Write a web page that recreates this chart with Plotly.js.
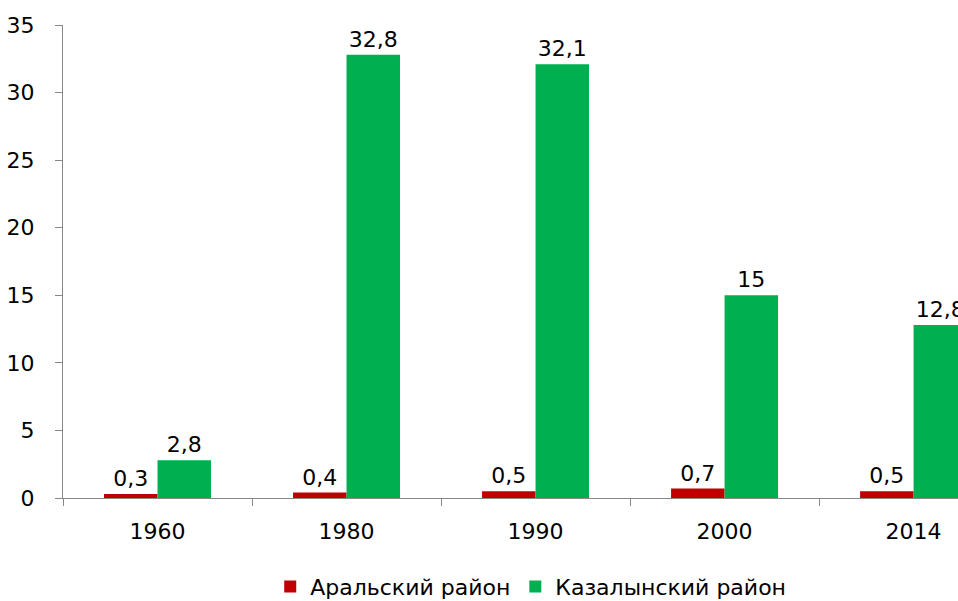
<!DOCTYPE html>
<html><head><meta charset="utf-8">
<script src="https://cdn.plot.ly/plotly-3.0.1.min.js"></script>
<style>html,body{margin:0;padding:0;overflow:hidden;background:#fff}#c{width:958px;height:601px}</style>
</head><body><div id="c"></div>
<script>
const years = ['1960','1980','1990','2000','2014'];
const aralValues = [0.3, 0.4, 0.5, 0.7, 0.5];
const kazalValues = [2.8, 32.8, 32.1, 15, 12.8];
const seriesNames = ['Аральский район', 'Казалынский район'];
const fmt = v => String(v).replace('.', ',');
const font = 'DejaVu Sans';
const fs = 22;
const traces = [
  {type:'bar', x:years, y:aralValues, name:seriesNames[0], marker:{color:'#C00000'},
   text:aralValues.map(fmt), textposition:'outside', textfont:{family:font,size:fs,color:'#000'}},
  {type:'bar', x:years, y:kazalValues, name:seriesNames[1], marker:{color:'#00B050'},
   text:kazalValues.map(fmt), textposition:'outside', textfont:{family:font,size:fs,color:'#000'}}
];
const layout = {
  width:958, height:601,
  margin:{l:63, r:0, t:25, b:103},
  paper_bgcolor:'#fff', plot_bgcolor:'#fff',
  font:{family:font, size:fs, color:'#000'},
  barmode:'group', bargap:0.434, bargroupgap:0,
  showlegend:true,
  legend:{orientation:'h', xref:'container', yref:'container', x:0.554, xanchor:'center', y:0.024, yanchor:'middle',
    font:{family:font,size:fs}, itemwidth:30, tracegroupgap:0},
  xaxis:{type:'category', range:[-0.5, 4.235], showline:true, linecolor:'#888', linewidth:1,
    ticks:'outside', tickson:'boundaries', ticklen:7, tickcolor:'#888', showgrid:false, zeroline:false,
    tickfont:{family:font,size:fs}, ticklabelstandoff:14, automargin:false},
  yaxis:{range:[0,35], dtick:5, tick0:0, showline:true, linecolor:'#888', linewidth:1,
    ticks:'outside', ticklen:7, tickcolor:'#888', showgrid:false, zeroline:false,
    tickfont:{family:font,size:fs}, ticklabelstandoff:16, automargin:false},
  uniformtext:{mode:false}
};
Plotly.newPlot('c', traces, layout, {displayModeBar:false, staticPlot:true});
</script></body></html>
